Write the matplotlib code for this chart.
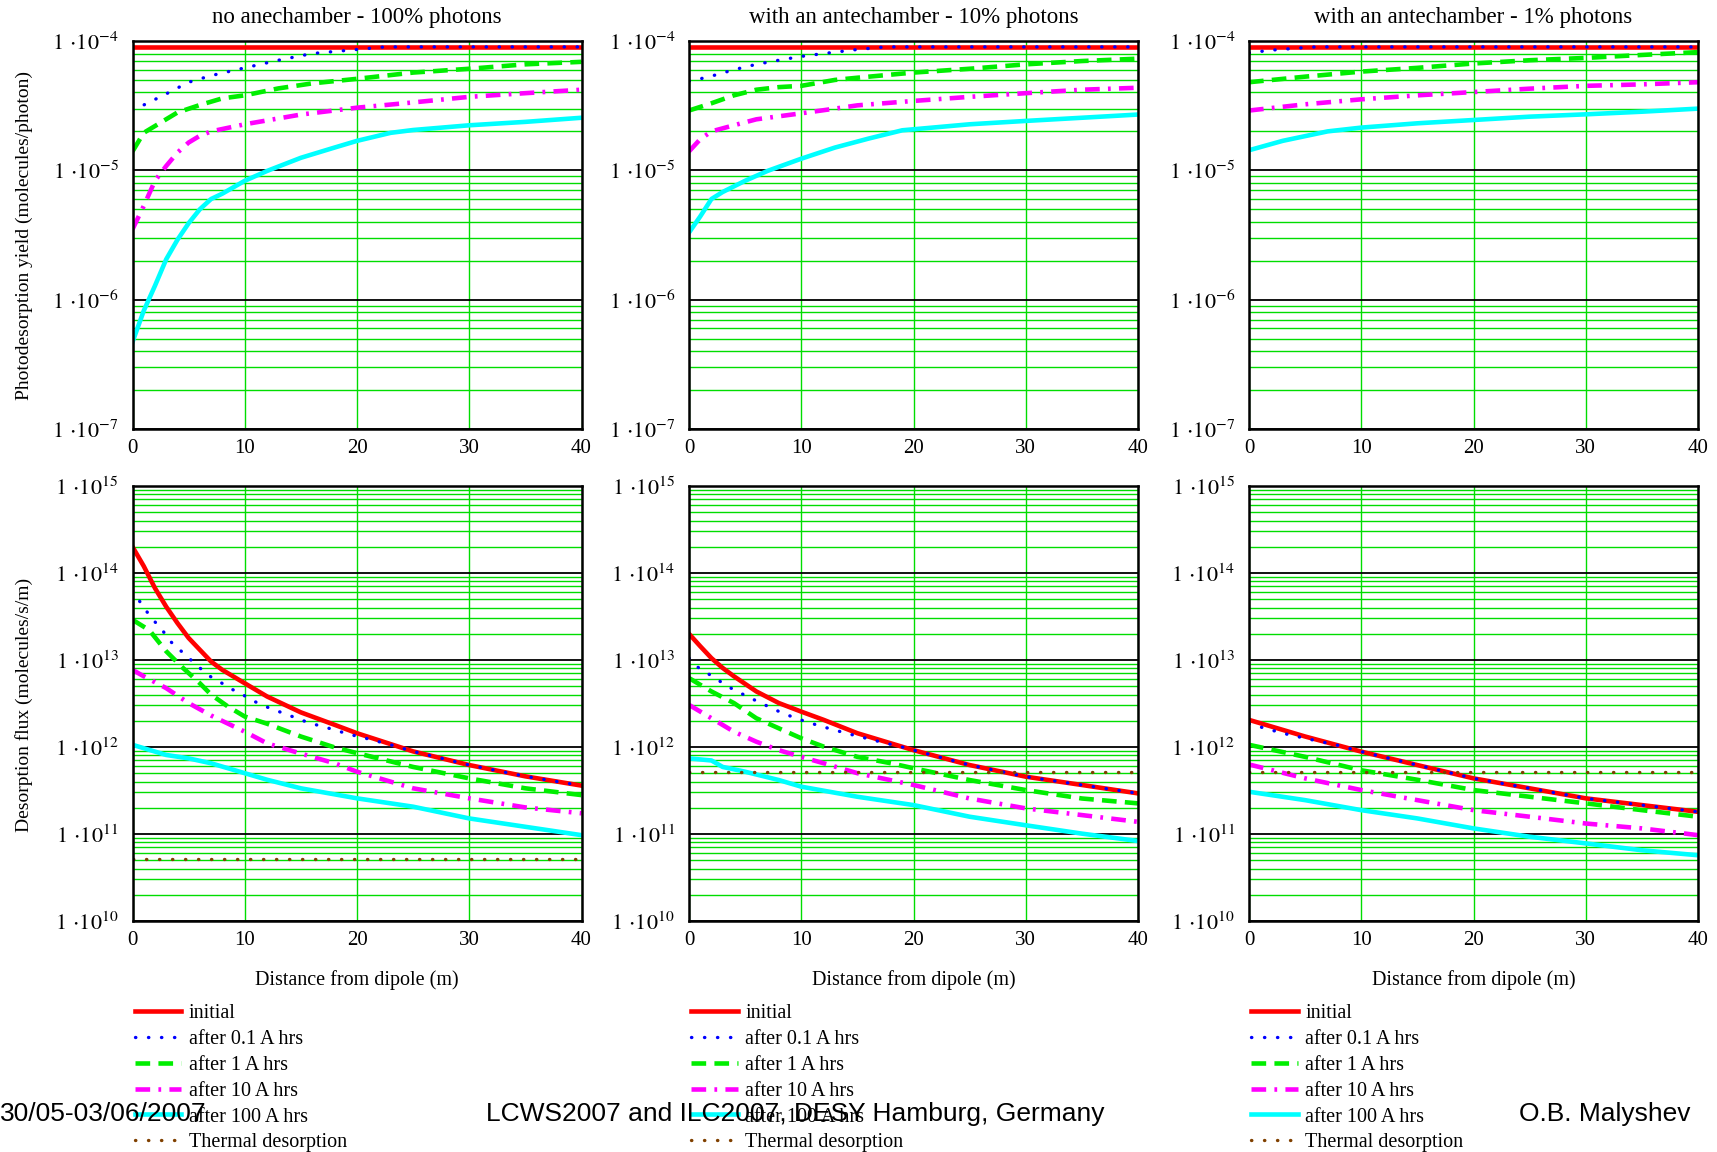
import numpy as np
import matplotlib
matplotlib.use("Agg")
import matplotlib.pyplot as plt
from matplotlib.ticker import LogLocator, FuncFormatter, NullFormatter

plt.rcParams['font.family'] = ['Liberation Serif', 'DejaVu Serif']
plt.rcParams['mathtext.fontset'] = 'stix'

# ---- data (x = distance from dipole, m) ----
labels = ["initial", "after 0.1 A hrs", "after 1 A hrs", "after 10 A hrs",
          "after 100 A hrs", "Thermal desorption"]
titles = ["no anechamber - 100% photons", "with an antechamber - 10% photons",
          "with an antechamber - 1% photons"]

# photodesorption yield (molecules/photon)
yield_100 = {
    "initial": ([0, 40], [9.0e-5, 9.0e-5]),
    "after 0.1 A hrs": ([0, 1, 3, 5, 7, 10, 13, 16, 20, 22.5, 40],
                        [2.9e-5, 3.2e-5, 3.9e-5, 4.8e-5, 5.4e-5, 6.2e-5, 7.1e-5, 8.0e-5, 8.6e-5, 9.0e-5, 9.0e-5]),
    "after 1 A hrs": ([0, 1, 2, 4, 6, 8, 10, 13, 16, 20, 25, 30, 35, 40],
                      [1.4e-5, 1.95e-5, 2.2e-5, 2.8e-5, 3.2e-5, 3.6e-5, 3.8e-5, 4.3e-5, 4.7e-5, 5.1e-5,
                       5.7e-5, 6.1e-5, 6.6e-5, 6.9e-5]),
    "after 10 A hrs": ([0, 1, 2, 3, 4, 5, 6, 7, 10, 15, 20, 25, 30, 35, 40],
                       [3.5e-6, 5.3e-6, 8.3e-6, 1.08e-5, 1.37e-5, 1.64e-5, 1.85e-5, 2.0e-5, 2.27e-5, 2.7e-5,
                        3.05e-5, 3.35e-5, 3.7e-5, 3.95e-5, 4.2e-5]),
    "after 100 A hrs": ([0, 1, 2, 3, 4, 5, 6, 7, 8, 10, 12, 15, 18, 20, 23, 25, 30, 35, 40],
                        [4.7e-7, 8.2e-7, 1.28e-6, 2.05e-6, 2.9e-6, 3.9e-6, 5.0e-6, 6.0e-6, 6.6e-6, 8.3e-6,
                         9.9e-6, 1.25e-5, 1.5e-5, 1.69e-5, 1.95e-5, 2.05e-5, 2.23e-5, 2.37e-5, 2.55e-5]),
}
yield_10 = {
    "initial": ([0, 40], [9.0e-5, 9.0e-5]),
    "after 0.1 A hrs": ([0, 1, 2.5, 4, 6, 8, 10, 12, 15, 17.5, 40],
                        [4.9e-5, 5.1e-5, 5.5e-5, 6.0e-5, 6.6e-5, 7.1e-5, 7.6e-5, 8.0e-5, 8.6e-5, 9.0e-5, 9.0e-5]),
    "after 1 A hrs": ([0, 2, 4, 6, 8, 10, 13, 15, 20, 25, 30, 35, 40],
                      [2.9e-5, 3.3e-5, 3.8e-5, 4.2e-5, 4.4e-5, 4.5e-5, 5.0e-5, 5.2e-5, 5.7e-5, 6.1e-5,
                       6.6e-5, 7.0e-5, 7.3e-5]),
    "after 10 A hrs": ([0, 1, 2, 4, 6, 10, 13, 15, 20, 25, 30, 35, 40],
                       [1.4e-5, 1.74e-5, 2.0e-5, 2.23e-5, 2.48e-5, 2.76e-5, 3.0e-5, 3.18e-5, 3.44e-5, 3.7e-5,
                        3.95e-5, 4.2e-5, 4.35e-5]),
    "after 100 A hrs": ([0, 1, 2, 3, 5, 7, 10, 13, 16, 19, 25, 30, 35, 40],
                        [3.3e-6, 4.4e-6, 6.0e-6, 6.8e-6, 8.3e-6, 9.9e-6, 1.23e-5, 1.5e-5, 1.76e-5, 2.04e-5,
                         2.27e-5, 2.41e-5, 2.55e-5, 2.7e-5]),
}
yield_1 = {
    "initial": ([0, 40], [9.0e-5, 9.0e-5]),
    "after 0.1 A hrs": ([0, 2, 5, 6, 40], [8.1e-5, 8.5e-5, 8.9e-5, 9.0e-5, 9.0e-5]),
    "after 1 A hrs": ([0, 5, 10, 15, 20, 25, 30, 35, 40],
                      [4.8e-5, 5.3e-5, 5.8e-5, 6.2e-5, 6.7e-5, 7.1e-5, 7.4e-5, 7.8e-5, 8.2e-5]),
    "after 10 A hrs": ([0, 5, 10, 15, 20, 25, 30, 35, 40],
                       [2.9e-5, 3.24e-5, 3.54e-5, 3.8e-5, 4.03e-5, 4.28e-5, 4.5e-5, 4.62e-5, 4.8e-5]),
    "after 100 A hrs": ([0, 3, 7, 10, 15, 20, 25, 30, 35, 40],
                        [1.43e-5, 1.69e-5, 2.0e-5, 2.14e-5, 2.31e-5, 2.45e-5, 2.6e-5, 2.71e-5, 2.84e-5, 3.0e-5]),
}

# desorption flux (molecules/s/m)
flux_100 = {
    "initial": ([0, 1, 2, 3, 4, 5, 6, 7, 8, 10, 12, 15, 18, 20, 25, 30, 35, 40],
                [2.0e14, 1.2e14, 6.7e13, 4.1e13, 2.66e13, 1.79e13, 1.31e13, 9.6e12, 7.7e12, 5.4e12,
                 3.8e12, 2.5e12, 1.8e12, 1.44e12, 8.9e11, 6.2e11, 4.6e11, 3.6e11]),
    "after 0.1 A hrs": ([0, 0.6, 1.2, 1.9, 2.7, 3.3, 5.1, 6, 6.9, 7.8, 8.6, 9.6, 10.4, 12.2, 14, 15.7,
                         17.5, 19.3, 21.1, 23, 25, 30, 35, 40],
                        [6.3e13, 4.8e13, 3.7e13, 2.84e13, 2.17e13, 1.67e13, 1.03e13, 8.1e12, 6.5e12, 5.6e12,
                         4.75e12, 4.2e12, 3.55e12, 2.8e12, 2.3e12, 1.9e12, 1.64e12, 1.4e12, 1.23e12, 1.06e12,
                         8.9e11, 6.2e11, 4.6e11, 3.6e11]),
    "after 1 A hrs": ([0, 1.5, 3, 4.5, 6, 7, 8.5, 10, 12, 15, 18, 20, 25, 30, 35, 40],
                      [2.9e13, 2.2e13, 1.26e13, 8.1e12, 5.4e12, 4.0e12, 2.92e12, 2.24e12, 1.85e12, 1.32e12,
                       9.9e11, 8.5e11, 5.9e11, 4.36e11, 3.35e11, 2.8e11]),
    "after 10 A hrs": ([0, 1, 3, 5, 7, 10, 12, 15, 18, 20, 25, 30, 35, 40],
                       [7.7e12, 6.5e12, 4.75e12, 3.2e12, 2.3e12, 1.5e12, 1.1e12, 8.4e11, 6.5e11, 5.2e11,
                        3.35e11, 2.57e11, 2.02e11, 1.73e11]),
    "after 100 A hrs": ([0, 3, 5, 7, 10, 12, 15, 20, 25, 30, 35, 40],
                        [1.06e12, 8.1e11, 7.4e11, 6.5e11, 5.0e11, 4.2e11, 3.35e11, 2.57e11, 2.06e11, 1.51e11,
                         1.21e11, 9.7e10]),
}
flux_10 = {
    "initial": ([0, 1, 2, 3, 4, 6, 8, 10, 12, 15, 18, 20, 25, 30, 35, 40],
                [2.0e13, 1.44e13, 1.05e13, 8.1e12, 6.5e12, 4.35e12, 3.2e12, 2.55e12, 2.05e12, 1.44e12,
                 1.1e12, 9.2e11, 6.2e11, 4.56e11, 3.66e11, 2.93e11]),
    "after 0.1 A hrs": ([0, 0.7, 1.6, 2.5, 3.4, 5.2, 7.8, 9.5, 11.5, 14, 17, 19, 20, 25, 30, 35, 40],
                        [1.05e13, 8.4e12, 7.1e12, 6.0e12, 5.0e12, 3.8e12, 2.63e12, 2.14e12, 1.77e12, 1.44e12,
                         1.15e12, 1.0e12, 9.2e11, 6.2e11, 4.56e11, 3.66e11, 2.93e11]),
    "after 1 A hrs": ([0, 2, 4, 6, 8, 10, 12, 15, 18, 20, 25, 30, 35, 40],
                      [6.2e12, 4.35e12, 3.2e12, 2.14e12, 1.64e12, 1.26e12, 1.01e12, 7.7e11, 6.5e11, 5.7e11,
                       4.17e11, 3.2e11, 2.56e11, 2.25e11]),
    "after 10 A hrs": ([0, 2, 4, 6, 8, 10, 12, 15, 20, 25, 30, 35, 40],
                       [3.05e12, 2.14e12, 1.5e12, 1.15e12, 9.2e11, 7.7e11, 6.5e11, 5.0e11, 3.66e11, 2.56e11,
                        1.97e11, 1.65e11, 1.38e11]),
    "after 100 A hrs": ([0, 2, 3, 5, 8, 10, 15, 20, 25, 30, 35, 40],
                        [7.4e11, 7.0e11, 5.9e11, 5.2e11, 4.17e11, 3.5e11, 2.68e11, 2.15e11, 1.58e11, 1.26e11,
                         1.01e11, 8.3e10]),
}
flux_1 = {
    "initial": ([0, 5, 10, 15, 20, 25, 30, 35, 40],
                [2.05e12, 1.32e12, 8.85e11, 6.2e11, 4.36e11, 3.35e11, 2.57e11, 2.15e11, 1.8e11]),
    "after 0.1 A hrs": ([0, 3, 5, 8, 10, 15, 20, 25, 30, 35, 40],
                        [1.85e12, 1.44e12, 1.26e12, 1.04e12, 8.85e11, 6.2e11, 4.36e11, 3.35e11, 2.57e11,
                         2.15e11, 1.8e11]),
    "after 1 A hrs": ([0, 5, 10, 15, 20, 25, 30, 35, 40],
                      [1.06e12, 7.7e11, 5.4e11, 4.2e11, 3.2e11, 2.68e11, 2.25e11, 1.88e11, 1.58e11]),
    "after 10 A hrs": ([0, 5, 10, 15, 20, 25, 30, 35, 40],
                       [6.3e11, 4.36e11, 3.2e11, 2.45e11, 1.88e11, 1.58e11, 1.32e11, 1.16e11, 9.7e10]),
    "after 100 A hrs": ([0, 5, 10, 15, 20, 25, 30, 35, 40],
                        [3.06e11, 2.45e11, 1.88e11, 1.51e11, 1.16e11, 9.3e10, 7.8e10, 6.5e10, 5.7e10]),
}
thermal_flux = [5.1e10, 5.1e11, 5.1e11]

styles = {
    "initial": dict(color='#ff0000', lw=3.3, ls='-'),
    "after 0.1 A hrs": dict(color='#0000ff', lw=2.4, ls=(0, (0.1, 3.8)), dash_capstyle='round'),
    "after 1 A hrs": dict(color='#00ee00', lw=3.3, ls=(0, (3.2, 1.8))),
    "after 10 A hrs": dict(color='#ff00ff', lw=3.3, ls=(0, (3.2, 1.8, 0.6, 1.8))),
    "after 100 A hrs": dict(color='#00ffff', lw=3.3, ls='-'),
    "Thermal desorption": dict(color='#804000', lw=2.4, ls=(0, (0.1, 3.8)), dash_capstyle='round'),
}

W, H = 1717, 1152
fig = plt.figure(figsize=(W / 100, H / 100), dpi=100)

lefts = [132.5, 689, 1249]
axw = 449
green = '#00dd00'


def exp_label(v, pos):
    return r'$1\,\cdot\!10^{%d}$' % int(round(np.log10(v)))


def style_axes(ax, ymin, ymax):
    ax.set_yscale('log')
    ax.set_xlim(0, 40)
    ax.set_ylim(ymin, ymax)
    ax.set_xticks([0, 10, 20, 30, 40])
    ax.yaxis.set_major_locator(LogLocator(base=10, numticks=20))
    ax.yaxis.set_minor_locator(LogLocator(base=10, subs=range(2, 10), numticks=50))
    ax.yaxis.set_major_formatter(FuncFormatter(exp_label))
    ax.yaxis.set_minor_formatter(NullFormatter())
    ax.grid(which='minor', axis='y', color=green, lw=1.0)
    ax.grid(which='major', axis='y', color='black', lw=1.3)
    ax.grid(which='major', axis='x', color=green, lw=1.0)
    ax.tick_params(which='both', length=0)
    ax.tick_params(axis='y', labelsize=16, pad=10)
    ax.tick_params(axis='x', labelsize=15, pad=7)
    for s in ax.spines.values():
        s.set_linewidth(1.8)


top_data = [yield_100, yield_10, yield_1]
bot_data = [flux_100, flux_10, flux_1]

for i in range(3):
    l = lefts[i] / W
    ax1 = fig.add_axes([l, 1 - 429 / H, axw / W, 388 / H])
    style_axes(ax1, 1e-7, 1e-4)
    for name, (xs, ys) in top_data[i].items():
        ax1.plot(xs, ys, label=name, **styles[name])
    ax1.set_title(titles[i], fontsize=16.5, pad=13)

    ax2 = fig.add_axes([l, 1 - 921 / H, axw / W, 435 / H])
    style_axes(ax2, 1e10, 1e15)
    for name, (xs, ys) in bot_data[i].items():
        ax2.plot(xs, ys, label=name, **styles[name])
    ax2.plot([0, 40], [thermal_flux[i]] * 2, label="Thermal desorption", **styles["Thermal desorption"])
    ax2.set_xlabel("Distance from dipole (m)", fontsize=14.5)
    ax2.xaxis.set_label_coords(0.5, -0.112)
    ax2.legend(loc='upper left', bbox_to_anchor=(0.005, -0.19), frameon=False, fontsize=14.5,
               handlelength=2.3, handletextpad=0.38, labelspacing=0.34, borderpad=0, borderaxespad=0)

fig.text(24 / W, 1 - 236 / H, "Photodesorption yield (molecules/photon)", rotation=90,
         ha='center', va='center', fontsize=14)
fig.text(24 / W, 1 - 705 / H, "Desorption flux (molecules/s/m)", rotation=90,
         ha='center', va='center', fontsize=14)

footer = dict(family='Liberation Sans', fontsize=19, va='center')
fig.text(0, 1 - 1114 / H, "30/05-03/06/2007", ha='left', **footer)
fig.text(795 / W, 1 - 1114 / H, "LCWS2007 and ILC2007, DESY Hamburg, Germany", ha='center', **footer)
fig.text(1690 / W, 1 - 1114 / H, "O.B. Malyshev", ha='right', **footer)

fig.savefig("out.png", dpi=100)
